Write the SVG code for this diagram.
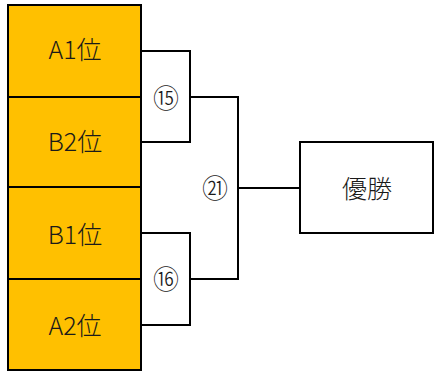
<svg xmlns="http://www.w3.org/2000/svg" width="435" height="371" viewBox="0 0 435 371">
<style>
.box{fill:#FFC000;stroke:#000;stroke-width:2}
.win{fill:#fff;stroke:#000;stroke-width:2}
.ln{fill:none;stroke:#000;stroke-width:2}
.t{font-family:"Noto Sans CJK JP","Noto Sans",sans-serif;font-size:25px;font-weight:300;fill:#1a1a1a;text-anchor:middle;dominant-baseline:central}
.c{font-family:"Noto Sans CJK JP","Noto Sans",sans-serif;font-size:26px;font-weight:300;fill:#1a1a1a;text-anchor:middle;dominant-baseline:central}
</style>
<rect width="435" height="371" fill="#fff"/>
<g id="connectors">
<polyline class="ln" points="141,51 190,51 190,142 141,142"/>
<polyline class="ln" points="141,233 190,233 190,325 141,325"/>
<polyline class="ln" points="190,97 238,97 238,279 190,279"/>
<line class="ln" x1="238" y1="188" x2="300" y2="188"/>
</g>
<g id="A1"><rect class="box" x="8" y="5" width="133" height="92"/><text class="t" x="75" y="48">A1位</text></g>
<g id="B2"><rect class="box" x="8" y="97" width="133" height="90"/><text class="t" x="75" y="140">B2位</text></g>
<g id="B1"><rect class="box" x="8" y="187" width="133" height="92"/><text class="t" x="75" y="233">B1位</text></g>
<g id="A2"><rect class="box" x="8" y="279" width="133" height="91"/><text class="t" x="75" y="324">A2位</text></g>
<g id="win"><rect class="win" x="300" y="142" width="133" height="91"/><text class="t" x="367" y="187">優勝</text></g>
<g id="labels">
<text class="c" x="166" y="96">⑮</text>
<text class="c" x="166" y="277">⑯</text>
<text class="c" x="215" y="186">㉑</text>
</g>
</svg>
